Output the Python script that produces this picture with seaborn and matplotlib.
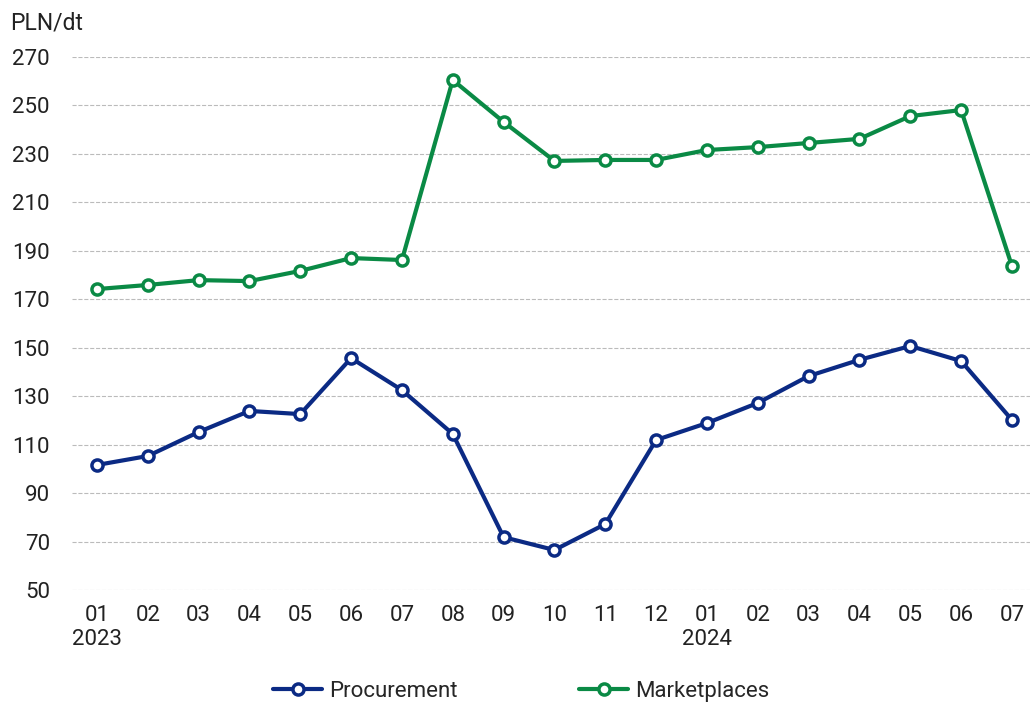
import pandas as pd
import matplotlib
matplotlib.use("Agg")
import matplotlib.pyplot as plt
import seaborn as sb

# Monthly prices, 2023-01 .. 2024-07
months = ["01", "02", "03", "04", "05", "06", "07", "08", "09", "10", "11", "12",
          "01", "02", "03", "04", "05", "06", "07"]
tickLabels = ["01\n2023", "02", "03", "04", "05", "06", "07", "08", "09", "10", "11", "12",
              "01\n2024", "02", "03", "04", "05", "06", "07"]
procurement = [101.6, 105.3, 115.2, 123.9, 122.6, 145.7, 132.5, 114.4, 71.8, 66.5, 77.2, 111.9,
               118.9, 127.2, 138.3, 145.0, 150.7, 144.5, 120.2]
marketplaces = [174.2, 175.9, 177.9, 177.5, 181.7, 187.0, 186.2, 260.5, 243.2, 227.1, 227.5, 227.5,
                231.6, 232.8, 234.5, 236.2, 245.6, 248.1, 183.7]

sb.set_style("white")
plt.rcParams['font.family'] = ['Roboto', 'DejaVu Sans']

df = pd.DataFrame({
    "idx": list(range(len(months))) * 2,
    "value": procurement + marketplaces,
    "series": ["Procurement"] * len(months) + ["Marketplaces"] * len(months),
})

fig = plt.figure(figsize=(10.32, 7.07), dpi=100)
ax = fig.add_axes([0.0698, 0.1655, 0.928, 0.7539])

palette = {"Procurement": "#0b2a84", "Marketplaces": "#0a8a45"}
sb.lineplot(data=df, x="idx", y="value", hue="series", palette=palette, ax=ax,
            linewidth=3, marker="o", markersize=8, markerfacecolor="white",
            markeredgewidth=2.5, legend=False)
# make marker edges match line colour
for line, name in zip(ax.lines, ["Procurement", "Marketplaces"]):
    line.set_markeredgecolor(palette[name])

ax.set_xlim(-0.49, 18.35)
ax.set_ylim(50, 270)
ax.set_yticks(range(50, 271, 20))
ax.set_xticks(range(len(months)))
ax.set_xticklabels(tickLabels, fontsize=16, color="#222222")
ax.tick_params(axis="y", labelsize=16, colors="#222222", length=0, pad=16)
ax.tick_params(axis="x", length=0, pad=11)
for lbl in ax.get_xticklabels():
    lbl.set_horizontalalignment("center")
ax.grid(axis="y", color="#bbbbbb", linestyle="--", linewidth=0.8)
ax.set_axisbelow(True)
for s in ax.spines.values():
    s.set_visible(False)
ax.set_xlabel("")
ax.set_ylabel("")
fig.text(0.01, 0.968, "PLN/dt", fontsize=16.5, color="#222222", va="center", ha="left")

handles = [plt.Line2D([], [], color=palette[n], linewidth=3, marker="o", markersize=8,
                      markerfacecolor="white", markeredgewidth=2.5, markeredgecolor=palette[n])
           for n in ["Procurement", "Marketplaces"]]
fig.legend(handles, ["Procurement", "Marketplaces"], loc="center", bbox_to_anchor=(0.505, 0.022),
           ncol=2, frameon=False, fontsize=16, columnspacing=5.5, handlelength=2.2, handletextpad=0.3)

fig.savefig("out.png", dpi=100)
